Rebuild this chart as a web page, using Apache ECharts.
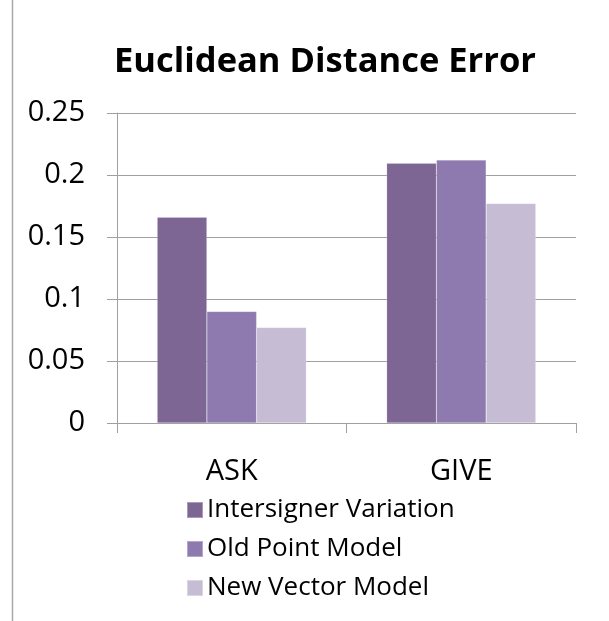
<!DOCTYPE html>
<html>
<head>
<meta charset="utf-8">
<script src="https://cdn.jsdelivr.net/npm/echarts@6/dist/echarts.min.js"></script>
<style>html,body{margin:0;padding:0;background:#fff;}#c{width:609px;height:621px;}</style>
</head>
<body>
<div id="c"></div>
<script>
const categories = ['ASK', 'GIVE'];
const seriesNames = ['Intersigner Variation', 'Old Point Model', 'New Vector Model'];
const intersigner = [0.166, 0.2095];
const oldPoint = [0.090, 0.212];
const newVector = [0.077, 0.177];
const yTicks = [0, 0.05, 0.1, 0.15, 0.2, 0.25];
const colors = ['#7D6693', '#8F7AAF', '#C6BDD5'];

const FONT = 'Open Sans';
const chart = echarts.init(document.getElementById('c'), null, {renderer: 'canvas'});
const values = [intersigner, oldPoint, newVector];
chart.setOption({
  animation: false,
  backgroundColor: '#fff',
  color: colors,
  title: {
    text: 'Euclidean Distance Error',
    left: 320, top: 40, textAlign: 'center',
    textStyle: {fontFamily: FONT, fontWeight: 'bold', fontSize: 34.5, color: '#000'}
  },
  grid: {left: 117, right: 33, top: 113, bottom: 198},
  legend: {
    orient: 'vertical', left: 181, top: 492,
    itemWidth: 16, itemHeight: 16, itemGap: 13,
    icon: 'rect',
    textStyle: {fontFamily: FONT, fontSize: 26, lineHeight: 26, color: '#000', padding: [0,0,0,-1]},
    data: seriesNames
  },
  xAxis: {
    type: 'category', data: categories,
    axisLine: {lineStyle: {color: '#a0a0a0', width: 1}},
    axisTick: {show: true, length: 10, lineStyle: {color: '#a0a0a0'}},
    axisLabel: {fontFamily: FONT, fontSize: 29, color: '#000', margin: 34}
  },
  yAxis: {
    type: 'value', min: 0, max: 0.25, interval: 0.05,
    axisLine: {show: true, lineStyle: {color: '#a0a0a0', width: 1}},
    axisTick: {show: true, length: 10, lineStyle: {color: '#a0a0a0'}},
    splitLine: {lineStyle: {color: '#a0a0a0', width: 1}},
    axisLabel: {fontFamily: FONT, fontSize: 29, color: '#000', margin: 32,
      formatter: v => { const t = yTicks.find(x => Math.abs(x - v) < 1e-9); return t === undefined ? '' : String(t); }}
  },
  series: seriesNames.map((n, i) => ({
    name: n, type: 'bar', data: values[i],
    barGap: '0%', barCategoryGap: '35%',
    itemStyle: {color: colors[i], borderColor: 'rgba(255,255,255,0.35)', borderWidth: 0.5}
  })),
  graphic: [{
    type: 'line', shape: {x1: 12.5, y1: 0, x2: 12.5, y2: 621},
    style: {stroke: '#a8a8a8', lineWidth: 1.5}
  }]
});
</script>
</body>
</html>
